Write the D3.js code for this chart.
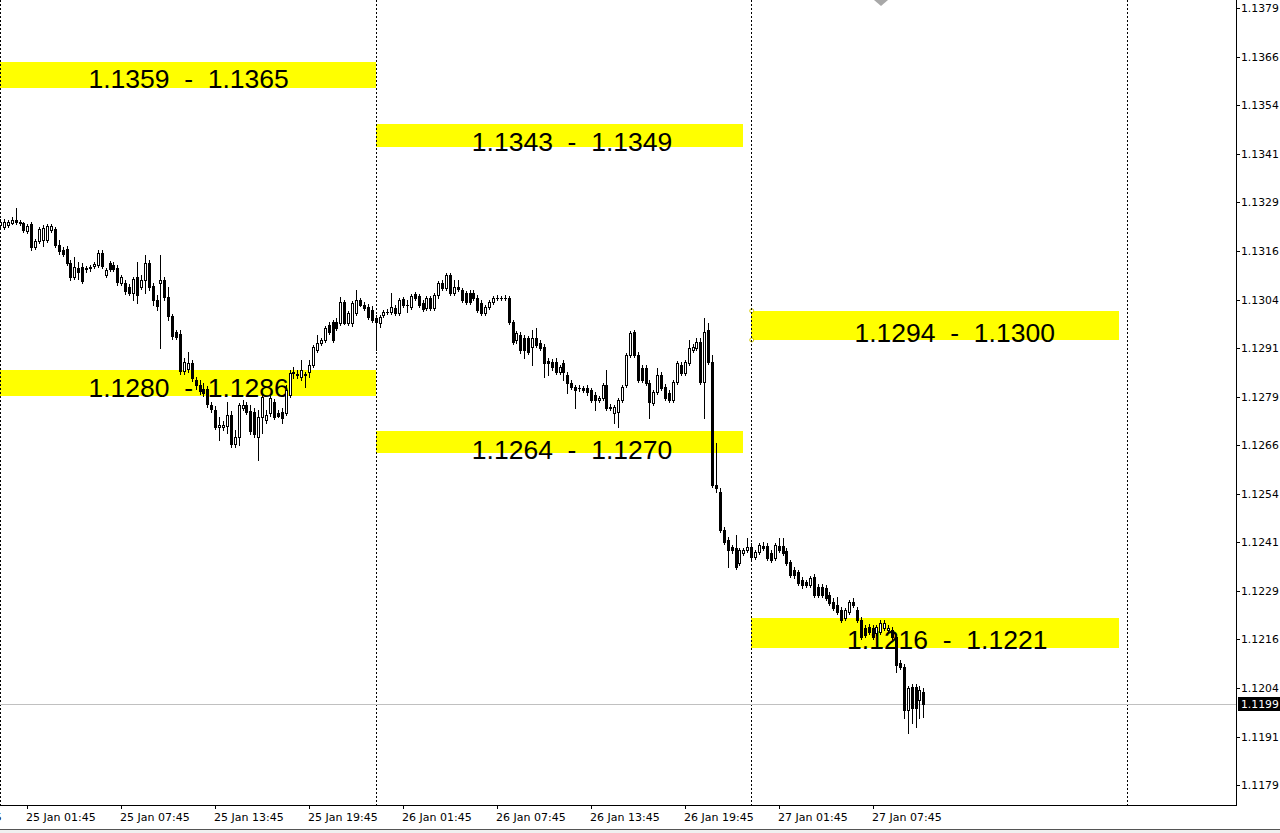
<!DOCTYPE html>
<html>
<head>
<meta charset="utf-8">
<script src="https://cdn.jsdelivr.net/npm/d3@7/dist/d3.min.js"></script>
<style>
  html, body { margin: 0; padding: 0; background: #fff; overflow: hidden; }
  svg { display: block; }
</style>
</head>
<body>
<svg id="chart" width="1280" height="833"></svg>
<script>
// EURUSD M15, bar 0 = 25 Jan 00:00
const opens = [
  1.13232,1.13227,1.13232,1.13237,1.13245,1.13240,1.13237,1.13216,1.13234,1.13175,1.13191,1.13193,1.13193,1.13219,1.13222,1.13180,
  1.13168,1.13170,1.13134,1.13098,1.13121,1.13124,1.13119,1.13121,1.13126,1.13129,1.13160,1.13103,1.13134,1.13129,1.13121,1.13083,
  1.13083,1.13072,1.13057,1.13098,1.13072,1.13090,1.13134,1.13075,1.13039,1.13083,1.13090,1.13047,1.12998,1.12956,1.12951,1.12856,
  1.12861,1.12877,1.12833,1.12820,1.12810,1.12810,1.12769,1.12756,1.12712,1.12712,1.12715,1.12743,1.12668,1.12686,1.12761,1.12769,
  1.12753,1.12751,1.12686,1.12738,1.12730,1.12748,1.12776,1.12748,1.12751,1.12748,1.12794,1.12851,1.12846,1.12841,1.12848,1.12854,
  1.12872,1.12910,1.12928,1.12936,1.12975,1.12982,1.12982,1.12980,1.13034,1.12980,1.12980,1.13005,1.13039,1.13026,1.13021,1.13013,
  1.12993,1.12980,1.13000,1.13008,1.13008,1.13018,1.13005,1.13041,1.13026,1.13021,1.13054,1.13049,1.13031,1.13018,1.13044,1.13018,
  1.13052,1.13083,1.13070,1.13103,1.13057,1.13072,1.13065,1.13057,1.13057,1.13057,1.13044,1.13031,1.13005,1.13021,1.13034,1.13044,
  1.13043,1.13044,1.13043,1.12982,1.12936,1.12949,1.12941,1.12941,1.12918,1.12941,1.12928,1.12918,1.12882,1.12879,1.12879,1.12854,
  1.12877,1.12846,1.12825,1.12815,1.12812,1.12812,1.12812,1.12807,1.12794,1.12781,1.12787,1.12820,1.12761,1.12748,1.12751,1.12781,
  1.12820,1.12897,1.12956,1.12897,1.12864,1.12864,1.12825,1.12774,1.12802,1.12846,1.12815,1.12799,1.12781,1.12828,1.12872,1.12851,
  1.12877,1.12910,1.12915,1.12931,1.12828,1.12962,1.12879,1.12563,1.12545,1.12447,1.12421,1.12403,1.12400,1.12362,1.12388,1.12395,
  1.12403,1.12377,1.12390,1.12406,1.12406,1.12388,1.12375,1.12406,1.12406,1.12393,1.12364,1.12344,1.12339,1.12318,1.12313,1.12305,
  1.12326,1.12300,1.12300,1.12298,1.12280,1.12262,1.12254,1.12241,1.12220,1.12236,1.12262,1.12241,1.12215,1.12195,1.12197,1.12195,
  1.12182,1.12184,1.12195,1.12189,1.12189,1.12171,1.12105,1.12094,1.11983,1.12043,1.12043,1.12009,1.12030
];
const highs = [
  1.13247,1.13247,1.13245,1.13252,1.13276,1.13245,1.13240,1.13234,1.13240,1.13196,1.13227,1.13232,1.13234,1.13234,1.13227,1.13193,
  1.13175,1.13178,1.13142,1.13150,1.13137,1.13134,1.13126,1.13129,1.13137,1.13168,1.13168,1.13121,1.13139,1.13137,1.13129,1.13103,
  1.13090,1.13080,1.13098,1.13137,1.13103,1.13155,1.13142,1.13083,1.13052,1.13155,1.13098,1.13072,1.13003,1.12962,1.12962,1.12890,
  1.12905,1.12884,1.12841,1.12833,1.12825,1.12817,1.12776,1.12766,1.12738,1.12727,1.12776,1.12753,1.12704,1.12774,1.12781,1.12776,
  1.12769,1.12761,1.12756,1.12799,1.12756,1.12792,1.12784,1.12756,1.12761,1.12820,1.12859,1.12866,1.12859,1.12884,1.12854,1.12884,
  1.12923,1.12949,1.12941,1.12972,1.12982,1.12987,1.12993,1.13047,1.13039,1.13011,1.13036,1.13065,1.13044,1.13034,1.13029,1.13023,
  1.13000,1.13000,1.13013,1.13016,1.13057,1.13026,1.13044,1.13047,1.13039,1.13054,1.13059,1.13054,1.13039,1.13049,1.13049,1.13057,
  1.13088,1.13090,1.13108,1.13108,1.13090,1.13090,1.13070,1.13062,1.13065,1.13065,1.13052,1.13039,1.13026,1.13039,1.13049,1.13052,
  1.13049,1.13052,1.13049,1.12987,1.12959,1.12956,1.12949,1.12946,1.12962,1.12967,1.12936,1.12926,1.12890,1.12887,1.12890,1.12872,
  1.12884,1.12854,1.12833,1.12820,1.12820,1.12817,1.12820,1.12812,1.12802,1.12792,1.12825,1.12859,1.12771,1.12769,1.12787,1.12820,
  1.12902,1.12959,1.12962,1.12905,1.12872,1.12872,1.12833,1.12807,1.12864,1.12854,1.12823,1.12807,1.12833,1.12882,1.12879,1.12884,
  1.12936,1.12926,1.12941,1.12941,1.12993,1.12980,1.12897,1.12671,1.12555,1.12455,1.12429,1.12408,1.12434,1.12400,1.12400,1.12426,
  1.12413,1.12395,1.12413,1.12416,1.12413,1.12395,1.12413,1.12426,1.12426,1.12400,1.12370,1.12352,1.12344,1.12326,1.12318,1.12328,
  1.12334,1.12308,1.12308,1.12305,1.12287,1.12272,1.12274,1.12249,1.12246,1.12267,1.12272,1.12249,1.12223,1.12202,1.12205,1.12202,
  1.12202,1.12215,1.12215,1.12202,1.12197,1.12179,1.12112,1.12102,1.12045,1.12051,1.12051,1.12045,1.12040
];
const lows = [
  1.13224,1.13222,1.13227,1.13234,1.13234,1.13232,1.13214,1.13211,1.13168,1.13170,1.13186,1.13178,1.13188,1.13214,1.13175,1.13157,
  1.13152,1.13129,1.13090,1.13093,1.13093,1.13083,1.13111,1.13113,1.13121,1.13124,1.13121,1.13098,1.13113,1.13113,1.13077,1.13077,
  1.13054,1.13052,1.13039,1.13031,1.13067,1.13057,1.13065,1.13026,1.13013,1.12915,1.13039,1.12987,1.12938,1.12938,1.12848,1.12848,
  1.12854,1.12830,1.12810,1.12797,1.12792,1.12763,1.12751,1.12707,1.12678,1.12704,1.12697,1.12660,1.12660,1.12666,1.12756,1.12745,
  1.12694,1.12686,1.12627,1.12697,1.12722,1.12740,1.12733,1.12738,1.12722,1.12743,1.12789,1.12838,1.12838,1.12833,1.12815,1.12841,
  1.12866,1.12905,1.12923,1.12931,1.12951,1.12931,1.12962,1.12975,1.12977,1.12975,1.12972,1.13000,1.13023,1.13013,1.12990,1.12982,
  1.12910,1.12969,1.12995,1.13003,1.13003,1.13000,1.13000,1.13021,1.13008,1.13016,1.13039,1.13021,1.13011,1.13013,1.13013,1.13013,
  1.13044,1.13065,1.13065,1.13052,1.13052,1.13062,1.13034,1.13029,1.13029,1.13039,1.13008,1.13000,1.13000,1.13016,1.13029,1.13039,
  1.13039,1.13039,1.12977,1.12926,1.12928,1.12902,1.12890,1.12900,1.12872,1.12918,1.12910,1.12841,1.12846,1.12859,1.12848,1.12848,
  1.12833,1.12799,1.12810,1.12761,1.12805,1.12802,1.12794,1.12776,1.12756,1.12776,1.12781,1.12756,1.12756,1.12722,1.12712,1.12776,
  1.12815,1.12892,1.12892,1.12828,1.12828,1.12820,1.12735,1.12769,1.12797,1.12807,1.12781,1.12776,1.12776,1.12823,1.12846,1.12846,
  1.12872,1.12905,1.12910,1.12823,1.12735,1.12874,1.12558,1.12545,1.12442,1.12411,1.12352,1.12388,1.12346,1.12357,1.12382,1.12390,
  1.12370,1.12372,1.12385,1.12395,1.12370,1.12364,1.12370,1.12390,1.12382,1.12357,1.12326,1.12323,1.12305,1.12298,1.12300,1.12300,
  1.12274,1.12274,1.12274,1.12267,1.12254,1.12241,1.12231,1.12210,1.12215,1.12231,1.12249,1.12210,1.12166,1.12171,1.12179,1.12166,
  1.12177,1.12179,1.12189,1.12184,1.12166,1.12081,1.12089,1.11963,1.11924,1.11950,1.11940,1.11963,1.11965
];
const closes = [
  1.13240,1.13240,1.13240,1.13245,1.13240,1.13237,1.13219,1.13229,1.13175,1.13191,1.13222,1.13224,1.13229,1.13229,1.13180,1.13165,
  1.13157,1.13134,1.13098,1.13124,1.13111,1.13088,1.13121,1.13124,1.13132,1.13160,1.13126,1.13116,1.13119,1.13119,1.13085,1.13098,
  1.13062,1.13057,1.13093,1.13052,1.13090,1.13134,1.13072,1.13039,1.13023,1.13090,1.13047,1.12998,1.12946,1.12944,1.12856,1.12879,
  1.12877,1.12838,1.12820,1.12805,1.12799,1.12771,1.12758,1.12712,1.12717,1.12717,1.12743,1.12668,1.12686,1.12769,1.12769,1.12751,
  1.12702,1.12694,1.12738,1.12789,1.12743,1.12787,1.12738,1.12740,1.12735,1.12807,1.12851,1.12854,1.12848,1.12859,1.12846,1.12872,
  1.12918,1.12928,1.12936,1.12967,1.12956,1.12936,1.12967,1.13034,1.12980,1.13005,1.13031,1.13039,1.13026,1.13018,1.12995,1.12987,
  1.12982,1.12995,1.13008,1.13009,1.13021,1.13005,1.13039,1.13026,1.13027,1.13049,1.13044,1.13026,1.13016,1.13044,1.13018,1.13052,
  1.13083,1.13070,1.13103,1.13057,1.13072,1.13067,1.13039,1.13034,1.13034,1.13044,1.13013,1.13005,1.13021,1.13034,1.13044,1.13043,
  1.13044,1.13043,1.12982,1.12931,1.12954,1.12910,1.12910,1.12905,1.12941,1.12923,1.12915,1.12877,1.12877,1.12866,1.12854,1.12866,
  1.12854,1.12825,1.12815,1.12807,1.12813,1.12807,1.12802,1.12781,1.12781,1.12787,1.12820,1.12761,1.12763,1.12763,1.12781,1.12815,
  1.12897,1.12954,1.12897,1.12833,1.12833,1.12825,1.12776,1.12802,1.12846,1.12812,1.12787,1.12781,1.12828,1.12877,1.12851,1.12879,
  1.12915,1.12918,1.12931,1.12828,1.12956,1.12879,1.12563,1.12555,1.12447,1.12416,1.12395,1.12395,1.12352,1.12395,1.12395,1.12403,
  1.12377,1.12390,1.12408,1.12400,1.12375,1.12370,1.12408,1.12395,1.12388,1.12362,1.12331,1.12331,1.12310,1.12305,1.12305,1.12323,
  1.12280,1.12280,1.12280,1.12272,1.12259,1.12246,1.12236,1.12215,1.12241,1.12262,1.12254,1.12215,1.12171,1.12177,1.12184,1.12171,
  1.12197,1.12207,1.12207,1.12195,1.12171,1.12099,1.12094,1.11983,1.12040,1.11989,1.11989,1.12035,1.11999
];

// day separators (bar index of 00:00)
const dayStarts = [0, 96, 192, 288];

// time axis
const timeTickBars = [-17, 7, 31, 55, 79, 103, 127, 151, 175, 199, 223];
const timeTickLabels = ["24 Jan 19:45", "25 Jan 01:45", "25 Jan 07:45", "25 Jan 13:45", "25 Jan 19:45",
  "26 Jan 01:45", "26 Jan 07:45", "26 Jan 13:45", "26 Jan 19:45", "27 Jan 01:45", "27 Jan 07:45"];

// price axis
const priceTicks = [1.13790, 1.13665, 1.13540, 1.13415, 1.13290, 1.13165, 1.13040, 1.12915, 1.12790,
  1.12665, 1.12540, 1.12415, 1.12290, 1.12165, 1.12040, 1.11915, 1.11790];
const priceTickLabels = ["1.1379", "1.1366", "1.1354", "1.1341", "1.1329", "1.1316", "1.1304", "1.1291", "1.1279",
  "1.1266", "1.1254", "1.1241", "1.1229", "1.1216", "1.1204", "1.1191", "1.1179"];

// yellow zones (rectangles + text objects)
const zoneFrom = [0, 96, 192, 0, 96, 192];
const zoneTo = [96, 190, 286, 96, 190, 286];
const zoneLow = [1.13585, 1.13433, 1.12936, 1.12792, 1.12645, 1.12143];
const zoneHigh = [1.13651, 1.13492, 1.13011, 1.12859, 1.12702, 1.12220];
const zoneLabels = ["1.1359  -  1.1365", "1.1343  -  1.1349", "1.1294  -  1.1300",
  "1.1280  -  1.1286", "1.1264  -  1.1270", "1.1216  -  1.1221"];
const zoneTextBar = [48.2, 146.2, 244, 48.2, 146.2, 242.1];
const zoneTextPrice = [1.13584, 1.13422, 1.12930, 1.12789, 1.12629, 1.12140];

const W = 1280, H = 833;
const plotW = 1236, plotH = 805;

var svg = d3.select('#chart');

var x = d3.scaleLinear().domain([0, 315.9]).range([0, plotW]);
var y = d3.scaleLinear().domain([1.11739, 1.13811]).range([plotH, 0]);

svg.append('rect').attr('width', W).attr('height', H).attr('fill', '#fff');

svg.append('defs').append('clipPath').attr('id', 'plot-clip')
  .append('rect').attr('width', plotW).attr('height', plotH);

var plot = svg.append('g').attr('clip-path', 'url(#plot-clip)');

var zoneIdx = d3.range(zoneLabels.length);

// zones
plot.append('g').selectAll('rect')
  .data(zoneIdx)
  .join('rect')
  .attr('x', i => Math.round(x(zoneFrom[i])))
  .attr('width', i => Math.round(x(zoneTo[i])) - Math.round(x(zoneFrom[i])))
  .attr('y', i => Math.round(y(zoneHigh[i])))
  .attr('height', i => Math.round(y(zoneLow[i])) - Math.round(y(zoneHigh[i])))
  .attr('fill', '#ffff00')
  .attr('shape-rendering', 'crispEdges');

plot.append('g').selectAll('text')
  .data(zoneIdx)
  .join('text')
  .attr('x', i => x(zoneTextBar[i]))
  .attr('y', i => y(zoneTextPrice[i]))
  .attr('text-anchor', 'middle')
  .style('font-family', '"Liberation Sans", Arial, sans-serif')
  .style('font-size', '26.5px')
  .style('white-space', 'pre')
  .attr('fill', '#000')
  .text(i => zoneLabels[i]);

// selection handles of the selected rectangle
var sel = 2;
plot.append('g').selectAll('circle')
  .data([zoneHigh[sel], zoneLow[sel]])
  .join('circle')
  .attr('cx', x(zoneFrom[sel]) + 0.5)
  .attr('cy', d => y(d))
  .attr('r', 2)
  .attr('fill', '#fff')
  .attr('stroke', '#d8d000');

// day separators
plot.append('g').selectAll('line')
  .data(dayStarts)
  .join('line')
  .attr('x1', d => Math.round(x(d)) + 0.5)
  .attr('x2', d => Math.round(x(d)) + 0.5)
  .attr('y1', 0)
  .attr('y2', plotH)
  .attr('stroke', '#000')
  .attr('stroke-dasharray', '2,2')
  .attr('shape-rendering', 'crispEdges');

// bid line
var last = closes[closes.length - 1];
plot.append('line')
  .attr('x1', 0).attr('x2', plotW)
  .attr('y1', Math.round(y(last)) + 0.5).attr('y2', Math.round(y(last)) + 0.5)
  .attr('stroke', '#c0c0c0')
  .attr('shape-rendering', 'crispEdges');

// candles
var bars = d3.range(closes.length);
var cx = i => Math.round(x(i));
var py = v => Math.round(y(v));

var gCandles = plot.append('g').attr('shape-rendering', 'crispEdges');

gCandles.selectAll('line')
  .data(bars)
  .join('line')
  .attr('x1', i => cx(i) + 0.5)
  .attr('x2', i => cx(i) + 0.5)
  .attr('y1', i => py(highs[i]))
  .attr('y2', i => py(lows[i]) + 1)
  .attr('stroke', '#000');

gCandles.selectAll('rect')
  .data(bars)
  .join('rect')
  .each(function (i) {
    var r = d3.select(this);
    var top = py(Math.max(opens[i], closes[i]));
    var bottom = py(Math.min(opens[i], closes[i]));
    if (closes[i] > opens[i] && bottom - top >= 1) {
      // bull candle: hollow
      r.attr('x', cx(i) - 0.5).attr('y', top + 0.5)
        .attr('width', 2).attr('height', bottom - top)
        .attr('fill', '#fff').attr('stroke', '#000');
    } else {
      r.attr('x', cx(i) - 1).attr('y', top)
        .attr('width', 3).attr('height', Math.max(1, bottom - top + 1))
        .attr('fill', '#000');
    }
  });

// frame
svg.append('line')
  .attr('x1', plotW + 0.5).attr('x2', plotW + 0.5)
  .attr('y1', 0).attr('y2', plotH + 1)
  .attr('stroke', '#000').attr('shape-rendering', 'crispEdges');
svg.append('line')
  .attr('x1', 0).attr('x2', plotW + 1)
  .attr('y1', plotH + 0.5).attr('y2', plotH + 0.5)
  .attr('stroke', '#000').attr('shape-rendering', 'crispEdges');

// price axis
var gPrice = svg.append('g').attr('class', 'price-axis');
gPrice.selectAll('line')
  .data(priceTicks)
  .join('line')
  .attr('x1', plotW + 1).attr('x2', plotW + 4)
  .attr('y1', d => Math.round(y(d)) + 0.5).attr('y2', d => Math.round(y(d)) + 0.5)
  .attr('stroke', '#000').attr('shape-rendering', 'crispEdges');
gPrice.selectAll('text')
  .data(priceTicks)
  .join('text')
  .attr('x', plotW + 5)
  .attr('y', d => Math.round(y(d)) + 4)
  .style('font-family', '"DejaVu Sans", Tahoma, sans-serif')
  .style('font-size', '10.8px')
  .attr('fill', '#000')
  .text((d, i) => priceTickLabels[i]);

// bid label (4 digits shown, the fifth is cut by the window edge)
var bidY = Math.round(y(last));
svg.append('rect')
  .attr('x', plotW + 2).attr('y', bidY - 7)
  .attr('width', W - plotW - 2).attr('height', 14)
  .attr('fill', '#000');
svg.append('text')
  .attr('x', plotW + 5).attr('y', bidY + 4)
  .style('font-family', '"DejaVu Sans", Tahoma, sans-serif')
  .style('font-size', '10.8px')
  .attr('fill', '#fff')
  .text((Math.floor(last * 10000) / 10000).toFixed(4));

// time axis
var gTime = svg.append('g').attr('class', 'time-axis');
gTime.selectAll('line')
  .data(timeTickBars)
  .join('line')
  .attr('x1', d => Math.round(x(d)) + 0.5).attr('x2', d => Math.round(x(d)) + 0.5)
  .attr('y1', plotH + 1).attr('y2', plotH + 4)
  .attr('stroke', '#000').attr('shape-rendering', 'crispEdges');
gTime.selectAll('text')
  .data(timeTickBars)
  .join('text')
  .attr('x', d => Math.round(x(d)) - 1)
  .attr('y', plotH + 16)
  .style('font-family', '"DejaVu Sans", Tahoma, sans-serif')
  .style('font-size', '11px')
  .attr('fill', '#000')
  .text((d, i) => timeTickLabels[i]);

// window status strip at the bottom
svg.append('rect').attr('x', 0).attr('y', 829).attr('width', W).attr('height', H - 829).attr('fill', '#f0f0f0');
svg.append('line').attr('x1', 0).attr('x2', W).attr('y1', 829.5).attr('y2', 829.5)
  .attr('stroke', '#555').attr('shape-rendering', 'crispEdges');

// chart shift marker
svg.append('path')
  .attr('d', 'M874,0 L888,0 L881,6 Z')
  .attr('fill', '#a8a8a8');
</script>
</body>
</html>
